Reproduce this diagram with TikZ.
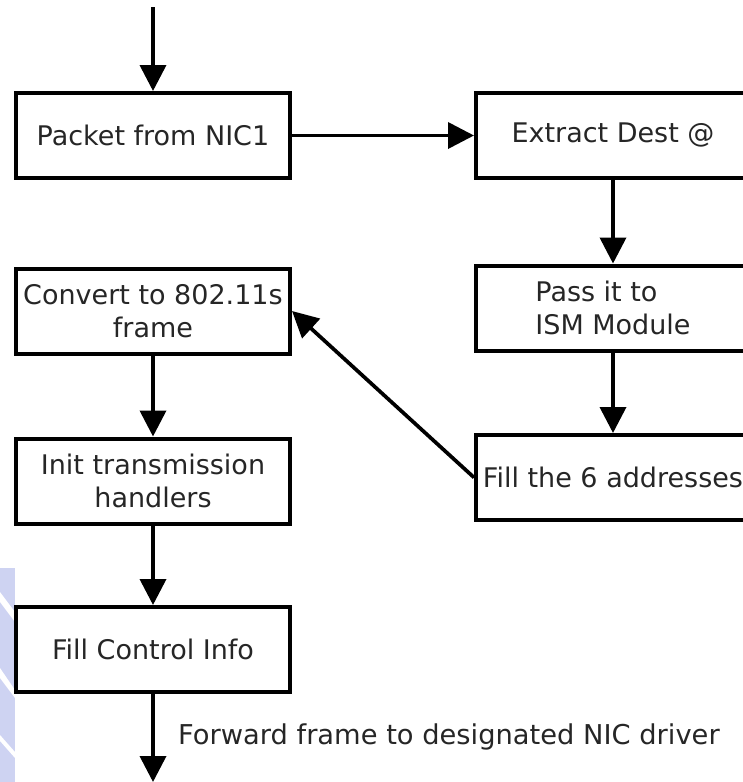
\documentclass[tikz,border=0pt]{standalone}
\usepackage{fontspec}
\setmainfont{DejaVu Sans}
\usetikzlibrary{arrows.meta}
\definecolor{markblue}{RGB}{206,211,242}
\tikzset{
  stepbox/.style={draw=black, line width=4pt, rectangle, minimum width=274pt,
    minimum height=85pt, inner sep=0pt, align=center,
    font=\fontsize{27pt}{33pt}\selectfont, text=black!85},
  flow/.style={line width=3.7pt, -{Triangle[length=26pt,width=26pt]}},
  note/.style={inner sep=0pt, anchor=west, font=\fontsize{27.3pt}{33pt}\selectfont, text=black!85}
}
\begin{document}
\begin{tikzpicture}[x=1pt, y=-1pt]
\useasboundingbox (0,0) rectangle (743,782);
\begin{scope}
\clip (0,0) rectangle (743,782);
% faint logo strip at the lower left edge
\fill[markblue] (0,568) -- (15,568) -- (15,782) -- (0,782) -- cycle;
\fill[white] (0,592) -- (15,612) -- (15,622) -- (0,602) -- cycle;
\fill[white] (0,668) -- (15,690) -- (15,698) -- (0,678) -- cycle;
\fill[white] (0,735) -- (15,752) -- (15,758) -- (0,741) -- cycle;

% process boxes
\node[stepbox] (packet)  at (153,135.5) {Packet from NIC1};
\node[stepbox] (extract) at (613,135.5) {Extract Dest @};
\node[stepbox, align=left] (pass) at (613,308) {Pass it to\\ISM Module};
\node[stepbox] (fill6)   at (613,477.5) {Fill the 6 addresses};
\node[stepbox] (convert) at (153,311) {Convert to 802.11s\\frame};
\node[stepbox] (init)    at (153,481) {Init transmission\\handlers};
\node[stepbox] (ctrl)    at (153,649.5) {Fill Control Info};

% loose ends of the flow
\coordinate (start) at (153,7);
\coordinate (finish) at (153,782);

% connectors
\draw[flow] (start) -- (packet);
\draw[flow] (packet) -- (extract);
\draw[flow] (extract) -- (pass);
\draw[flow] (pass) -- (fill6);
\draw[flow] (fill6.west) -- (convert.east);
\draw[flow] (convert) -- (init);
\draw[flow] (init) -- (ctrl);
\draw[flow] (ctrl) -- (finish);

\node[note] (fwd) at (178,737) {Forward frame to designated NIC driver};
\end{scope}
\end{tikzpicture}
\end{document}
